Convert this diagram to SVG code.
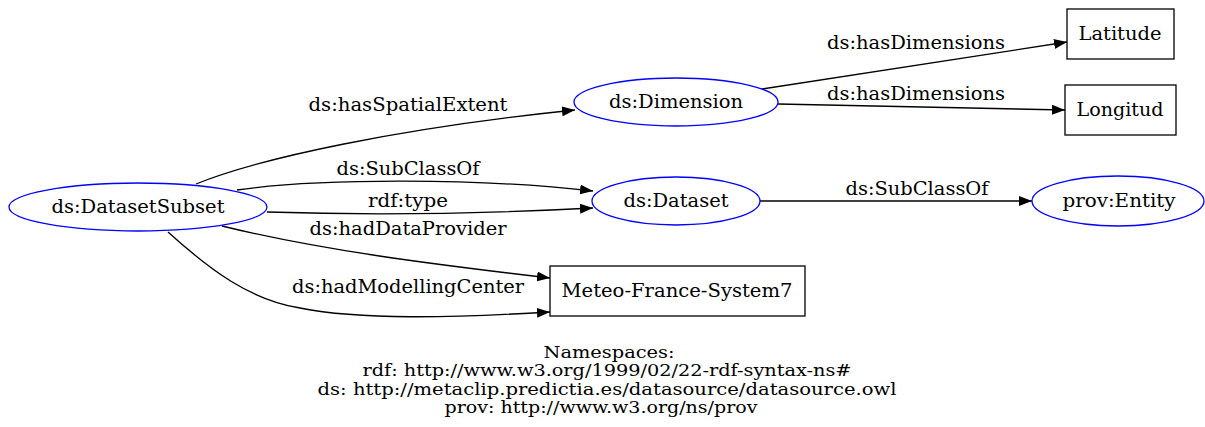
<svg xmlns="http://www.w3.org/2000/svg" width="1205" height="427" viewBox="0 0 1205 427">
<style>
text{font-family:"DejaVu Serif",serif;font-size:18px;fill:#000;text-anchor:middle}
#legend text{font-size:16px}
.ell{fill:none;stroke:#0000ff;stroke-width:1.3}
.box{fill:none;stroke:#000;stroke-width:1.3}
.edge{fill:none;stroke:#000;stroke-width:1.3}
</style>
<defs>
<marker id="arr" markerWidth="14" markerHeight="10" refX="13" refY="5" orient="auto" markerUnits="userSpaceOnUse">
<path d="M0,0 L13,5 L0,10 Z" fill="#000"/>
</marker>
</defs>
<rect width="1205" height="427" fill="#fff"/>
<g id="connectors">
<path class="edge" marker-end="url(#arr)" d="M196,184 C260,158 400,128 575,110"/>
<text x="408" y="111" textLength="199" lengthAdjust="spacingAndGlyphs">ds:hasSpatialExtent</text>
<path class="edge" marker-end="url(#arr)" d="M237,190 C320,178 480,178 593,191"/>
<text x="408" y="175" textLength="143" lengthAdjust="spacingAndGlyphs">ds:SubClassOf</text>
<path class="edge" marker-end="url(#arr)" d="M267,212 C360,215 480,214 593,208"/>
<text x="408" y="207" textLength="80" lengthAdjust="spacingAndGlyphs">rdf:type</text>
<path class="edge" marker-end="url(#arr)" d="M222,226 C320,250 430,264 550,278"/>
<text x="408" y="235" textLength="197" lengthAdjust="spacingAndGlyphs">ds:hadDataProvider</text>
<path class="edge" marker-end="url(#arr)" d="M168,232 C210,270 250,300 300,308 C360,320 450,318 550,312"/>
<text x="408" y="293" textLength="232" lengthAdjust="spacingAndGlyphs">ds:hadModellingCenter</text>
<path class="edge" marker-end="url(#arr)" d="M762,89 L1067,42"/>
<text x="916" y="49" textLength="178" lengthAdjust="spacingAndGlyphs">ds:hasDimensions</text>
<path class="edge" marker-end="url(#arr)" d="M778,104 L1065,110"/>
<text x="916" y="100" textLength="178" lengthAdjust="spacingAndGlyphs">ds:hasDimensions</text>
<path class="edge" marker-end="url(#arr)" d="M760,201 L1032,201"/>
<text x="917" y="195" textLength="143" lengthAdjust="spacingAndGlyphs">ds:SubClassOf</text>
</g>
<g id="node-DatasetSubset">
<ellipse class="ell" cx="138" cy="207" rx="129" ry="24"/>
<text x="138" y="213" textLength="173" lengthAdjust="spacingAndGlyphs">ds:DatasetSubset</text>
</g>
<g id="node-Dimension">
<ellipse class="ell" cx="676" cy="102" rx="102" ry="24"/>
<text x="676" y="108" textLength="134" lengthAdjust="spacingAndGlyphs">ds:Dimension</text>
</g>
<g id="node-Dataset">
<ellipse class="ell" cx="676" cy="201" rx="84" ry="24"/>
<text x="676" y="207" textLength="105" lengthAdjust="spacingAndGlyphs">ds:Dataset</text>
</g>
<g id="node-Entity">
<ellipse class="ell" cx="1118" cy="201" rx="86" ry="25"/>
<text x="1119" y="207" textLength="113" lengthAdjust="spacingAndGlyphs">prov:Entity</text>
</g>
<g id="node-Latitude">
<rect class="box" x="1067" y="9" width="107" height="50"/>
<text x="1120" y="40" textLength="83" lengthAdjust="spacingAndGlyphs">Latitude</text>
</g>
<g id="node-Longitud">
<rect class="box" x="1065" y="85" width="111" height="50"/>
<text x="1120" y="116" textLength="87" lengthAdjust="spacingAndGlyphs">Longitud</text>
</g>
<g id="node-Meteo">
<rect class="box" x="550" y="266" width="255" height="50"/>
<text x="677" y="297" textLength="231" lengthAdjust="spacingAndGlyphs">Meteo-France-System7</text>
</g>
<g id="legend">
<text x="609" y="358" textLength="131" lengthAdjust="spacingAndGlyphs">Namespaces:</text>
<text x="607" y="376" textLength="489" lengthAdjust="spacingAndGlyphs">rdf: http://www.w3.org/1999/02/22-rdf-syntax-ns#</text>
<text x="607" y="395" textLength="579" lengthAdjust="spacingAndGlyphs">ds: http://metaclip.predictia.es/datasource/datasource.owl</text>
<text x="601" y="413" textLength="313" lengthAdjust="spacingAndGlyphs">prov: http://www.w3.org/ns/prov</text>
</g>
</svg>
